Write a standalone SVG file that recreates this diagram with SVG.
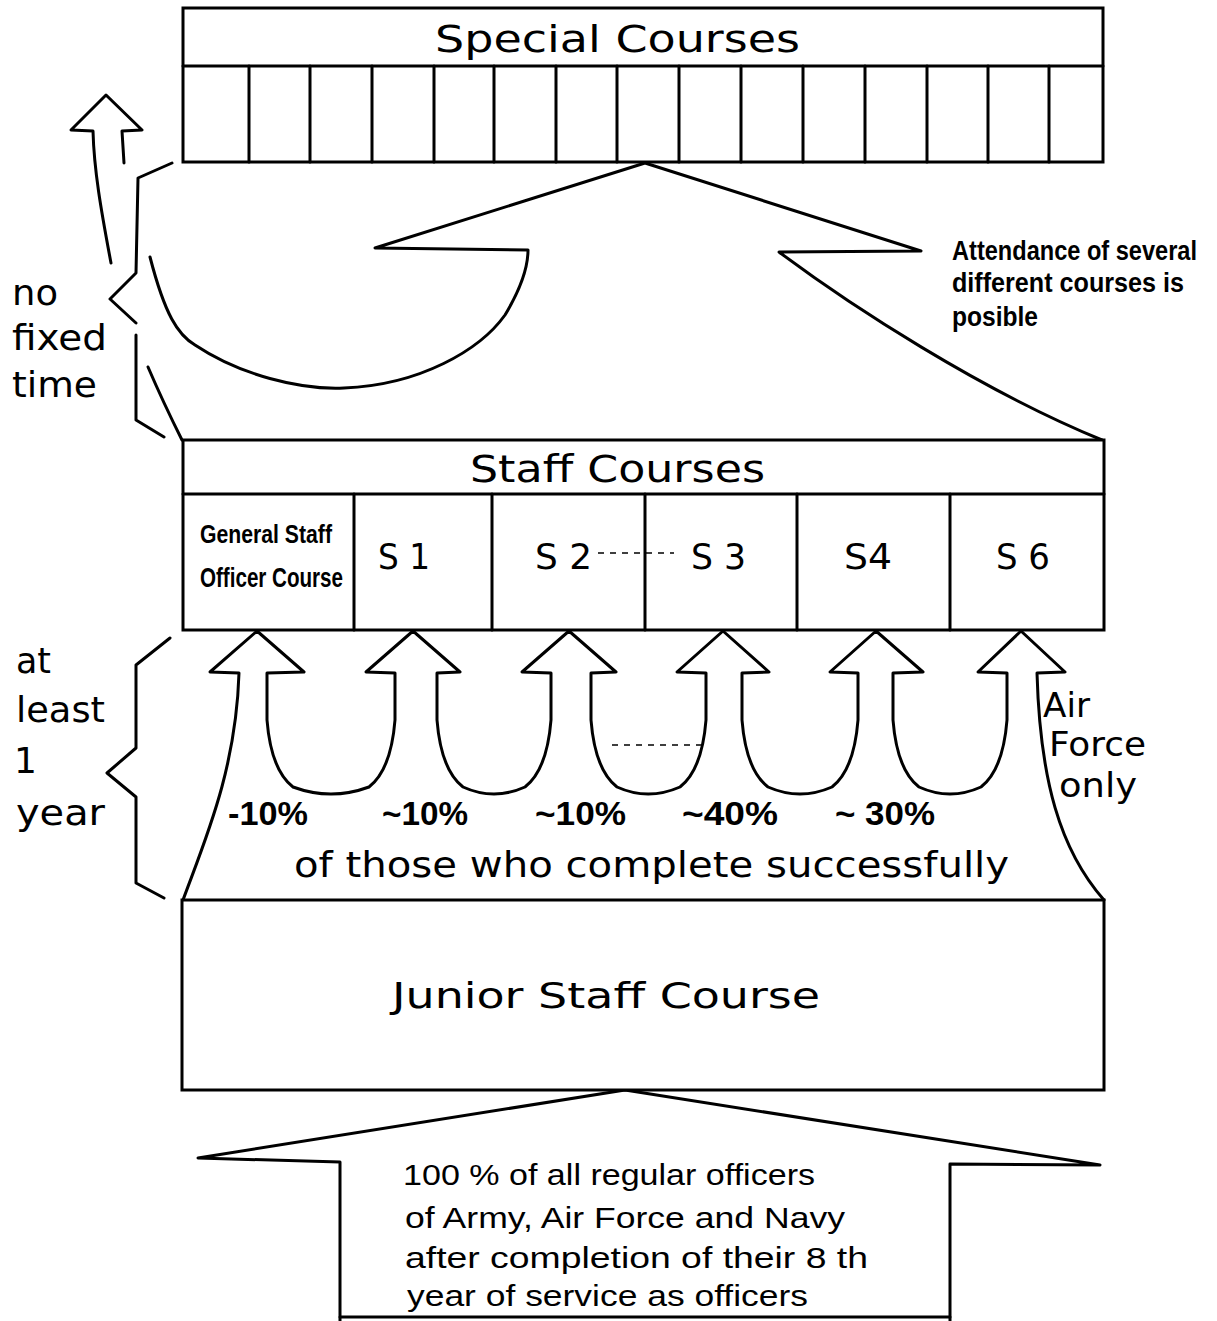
<svg xmlns="http://www.w3.org/2000/svg" width="1217" height="1321" viewBox="0 0 1217 1321">
<style>
.ln{fill:none;stroke:#000;stroke-width:3;stroke-linejoin:round;stroke-linecap:round}
.bx{fill:#fff;stroke:#000;stroke-width:3}
.dash{fill:none;stroke:#000;stroke-width:1.5;stroke-dasharray:6 6}
text{fill:#000}
.w{font-family:"DejaVu Sans","Liberation Sans",sans-serif}
.c{font-family:"Liberation Sans","DejaVu Sans",sans-serif}
.n{font-family:"Liberation Sans","DejaVu Sans",sans-serif;font-weight:bold}
</style>
<rect x="0" y="0" width="1217" height="1321" fill="#fff"/>

<g id="connectors">
  <path class="ln" d="M111,263 C101,210 94,170 93,131 L71,130 L106,95 L142,130 L122,131 L124,163"/>
  <path class="ln" d="M150,257 C165,315 178,335 195,345 C240,375 300,390 344,388 C420,385 480,350 505,315 C520,290 528,270 528,250 L375,248 L645,163 L921,251 L779,252 C850,305 980,390 1102,440"/>
  <path class="ln" d="M148,367 C160,395 172,420 182,440"/>
  <path class="ln" d="M183,900 C205,840 236,770 239,673 L210,672 L257,631 L304,672 L267,673
    L267,720 Q271,770 293,787 Q331,801 369,787 Q391,770 395,720 L395,673
    L366,672 L413,631 L460,672 L437,673
    L437,720 Q441,770 463,787 Q494,801 525,787 Q547,770 551,720 L551,673
    L522,672 L569,631 L616,672 L591,673
    L591,720 Q595,770 617,787 Q648,801 680,787 Q702,770 706,720 L706,673
    L677,672 L723,631 L769,672 L742,673
    L742,720 Q746,770 768,787 Q800,801 832,787 Q854,770 858,720 L858,673
    L830,672 L876,631 L923,672 L893,673
    L893,720 Q897,770 919,787 Q950,801 981,787 Q1003,770 1007,720 L1007,673
    L978,672 L1021,631 L1065,672 L1037,673
    C1040,780 1060,850 1104,900"/>
  <line class="dash" x1="612" y1="745" x2="706" y2="745"/>
  <path class="ln" d="M340,1321 L340,1162 L198,1158 L625,1090 L1100,1165 L950,1164 L950,1321"/>
  <line class="ln" x1="340" y1="1317" x2="950" y2="1317"/>
  <path class="ln" d="M172,163 L138,178 L136,273 L110,299 L136,323 M136,335 L136,420 L164,437"/>
  <path class="ln" d="M170,638 L136,665 L136,748 L107,773 L136,797 L136,883 L164,898"/>
</g>

<g id="special-courses">
  <rect class="bx" x="183" y="8" width="920" height="154"/>
  <line class="ln" x1="183" y1="66" x2="1103" y2="66"/>
  <path class="ln" d="M249,66V162M310,66V162M372,66V162M434,66V162M494,66V162M556,66V162M617,66V162M679,66V162M741,66V162M803,66V162M865,66V162M927,66V162M988,66V162M1049,66V162"/>
  <text class="w" x="435" y="52" font-size="38" textLength="365" lengthAdjust="spacingAndGlyphs">Special  Courses</text>
</g>

<g id="staff-courses">
  <rect class="bx" x="183" y="440" width="921" height="190"/>
  <line class="ln" x1="183" y1="494" x2="1104" y2="494"/>
  <path class="ln" d="M354,494V630M492,494V630M645,494V630M797,494V630M950,494V630"/>
  <text class="w" x="470" y="482" font-size="37" textLength="295" lengthAdjust="spacingAndGlyphs">Staff  Courses</text>
  <text class="n" x="200" y="543" font-size="26" textLength="132" lengthAdjust="spacingAndGlyphs">General Staff</text>
  <text class="n" x="200" y="587" font-size="27" textLength="143" lengthAdjust="spacingAndGlyphs">Officer Course</text>
  <text class="w" x="378" y="569" font-size="36" textLength="52" lengthAdjust="spacingAndGlyphs">S 1</text>
  <text class="w" x="535" y="569" font-size="36" textLength="57" lengthAdjust="spacingAndGlyphs">S 2</text>
  <line class="dash" x1="598" y1="553" x2="674" y2="553"/>
  <text class="w" x="691" y="569" font-size="36" textLength="55" lengthAdjust="spacingAndGlyphs">S 3</text>
  <text class="w" x="844" y="569" font-size="36" textLength="48" lengthAdjust="spacingAndGlyphs">S4</text>
  <text class="w" x="996" y="569" font-size="36" textLength="54" lengthAdjust="spacingAndGlyphs">S 6</text>
</g>

<g id="junior-staff-course">
  <rect class="bx" x="182" y="900" width="922" height="190"/>
  <text class="w" x="392" y="1008" font-size="35" textLength="428" lengthAdjust="spacingAndGlyphs">Junior Staff  Course</text>
</g>

<g id="entry-text">
  <text class="c" x="403" y="1185" font-size="29" textLength="412" lengthAdjust="spacingAndGlyphs">100 % of all regular officers</text>
  <text class="c" x="405" y="1228" font-size="29" textLength="440" lengthAdjust="spacingAndGlyphs">of Army, Air Force and Navy</text>
  <text class="c" x="405" y="1268" font-size="29" textLength="463" lengthAdjust="spacingAndGlyphs">after completion of their 8 th</text>
  <text class="c" x="407" y="1306" font-size="29" textLength="401" lengthAdjust="spacingAndGlyphs">year of service as officers</text>
</g>

<g id="percentages">
  <text class="n" x="228" y="825" font-size="33" textLength="80" lengthAdjust="spacingAndGlyphs">-10%</text>
  <text class="n" x="382" y="825" font-size="33" textLength="86" lengthAdjust="spacingAndGlyphs">~10%</text>
  <text class="n" x="535" y="825" font-size="33" textLength="91" lengthAdjust="spacingAndGlyphs">~10%</text>
  <text class="n" x="682" y="825" font-size="33" textLength="96" lengthAdjust="spacingAndGlyphs">~40%</text>
  <text class="n" x="835" y="825" font-size="33" textLength="100" lengthAdjust="spacingAndGlyphs">~ 30%</text>
  <text class="w" x="294" y="877" font-size="36" textLength="715" lengthAdjust="spacingAndGlyphs">of  those  who  complete  successfully</text>
</g>

<g id="air-force-note">
  <text class="w" x="1043" y="717" font-size="33" textLength="47" lengthAdjust="spacingAndGlyphs">Air</text>
  <text class="w" x="1049" y="756" font-size="33" textLength="97" lengthAdjust="spacingAndGlyphs">Force</text>
  <text class="w" x="1059" y="797" font-size="33" textLength="78" lengthAdjust="spacingAndGlyphs">only</text>
</g>

<g id="attendance-note">
  <text class="n" transform="translate(952,260) scale(1,1.2)" x="0" y="0" font-size="23" textLength="245" lengthAdjust="spacingAndGlyphs">Attendance of several</text>
  <text class="n" transform="translate(952,292) scale(1,1.2)" x="0" y="0" font-size="23" textLength="232" lengthAdjust="spacingAndGlyphs">different courses is</text>
  <text class="n" transform="translate(952,326) scale(1,1.2)" x="0" y="0" font-size="23" textLength="86" lengthAdjust="spacingAndGlyphs">posible</text>
</g>

<g id="time-labels">
  <text class="w" x="12" y="305" font-size="36" textLength="46" lengthAdjust="spacingAndGlyphs">no</text>
  <text class="w" x="12" y="350" font-size="36" textLength="95" lengthAdjust="spacingAndGlyphs">fixed</text>
  <text class="w" x="12" y="397" font-size="36" textLength="85" lengthAdjust="spacingAndGlyphs">time</text>
  <text class="w" x="16" y="673" font-size="36" textLength="35" lengthAdjust="spacingAndGlyphs">at</text>
  <text class="w" x="16" y="722" font-size="36" textLength="89" lengthAdjust="spacingAndGlyphs">least</text>
  <text class="w" x="14" y="773" font-size="36">1</text>
  <text class="w" x="16" y="825" font-size="36" textLength="89" lengthAdjust="spacingAndGlyphs">year</text>
</g>
</svg>
